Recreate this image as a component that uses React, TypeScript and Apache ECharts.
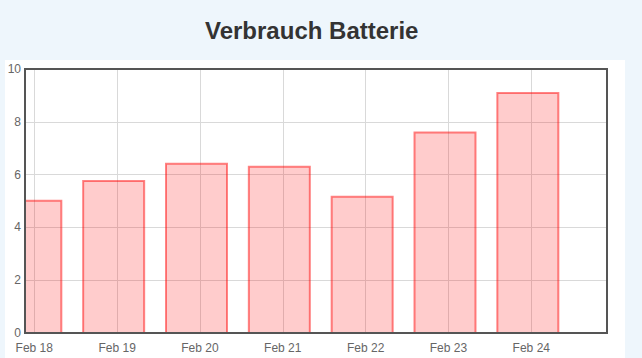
import React, { useEffect, useRef } from "react";
import * as echarts from "echarts";

const title = "Verbrauch Batterie";
const categories = ["Feb 18", "Feb 19", "Feb 20", "Feb 21", "Feb 22", "Feb 23", "Feb 24"];
const values = [5.01, 5.76, 6.41, 6.3, 5.16, 7.59, 9.09];
// data points are stamped one hour before local midnight of each day
const hourOffset = -1 / 24;
const yTicks = { min: 0, max: 10, interval: 2 };

export default function App() {
  const ref = useRef<HTMLDivElement>(null);
  useEffect(() => {
    document.body.style.margin = "0";
    const chart = echarts.init(ref.current!, null, { renderer: "svg" });
    const font = "'Liberation Sans', Arial, Helvetica, sans-serif";
    const barWidth = 61;
    chart.setOption({
      animation: false,
      backgroundColor: "#eef6fc",
      textStyle: { fontFamily: font },
      title: {
        text: title,
        left: 200,
        top: 13,
        textStyle: { fontSize: 24, fontWeight: "bold", color: "#333", fontFamily: font },
      },
      graphic: [
        {
          type: "rect",
          z: -10,
          silent: true,
          shape: { x: 5, y: 60, width: 620, height: 298 },
          style: { fill: "#ffffff" },
        },
      ],
      grid: {
        left: 25,
        right: 35,
        top: 69,
        bottom: 25,
        show: true,
        borderColor: "#555",
        borderWidth: 2,
        backgroundColor: "transparent",
        z: 5,
      },
      xAxis: {
        type: "value",
        min: -0.112,
        max: 6.914,
        minInterval: 1,
        maxInterval: 1,
        splitNumber: 7,
        axisLine: { show: false },
        axisTick: { show: false },
        splitLine: { show: true, lineStyle: { color: "#d9d9d9", width: 1 } },
        axisLabel: {
          color: "#666",
          fontSize: 12,
          margin: 9,
          showMinLabel: false,
          showMaxLabel: false,
          formatter: (v: number) => {
            const i = Math.round(v);
            return Math.abs(v - i) < 1e-6 && categories[i] ? categories[i] : "";
          },
        },
      },
      yAxis: {
        type: "value",
        min: yTicks.min,
        max: yTicks.max,
        interval: yTicks.interval,
        axisLine: { show: false },
        axisTick: { show: false },
        splitLine: { show: true, lineStyle: { color: "#d9d9d9", width: 1 } },
        axisLabel: { color: "#666", fontSize: 12, margin: 4 },
      },
      series: [
        {
          type: "custom",
          clip: true,
          encode: { x: 0, y: 1 },
          data: values.map((v, i) => [i + hourOffset, v]),
          renderItem: (params: any, api: any) => {
            const x = api.value(0);
            const y = api.value(1);
            const base = api.coord([x, 0]);
            const top = api.coord([x, y]);
            return {
              type: "rect",
              shape: { x: base[0] - barWidth / 2, y: top[1], width: barWidth, height: base[1] - top[1] },
              style: {
                fill: "rgba(255,0,0,0.2)",
                stroke: "rgba(255,0,0,0.48)",
                lineWidth: 2,
              },
            };
          },
        },
      ],
    });
    return () => chart.dispose();
  }, []);
  return <div ref={ref} style={{ position: "absolute", left: 0, top: 0, width: 642, height: 358 }} />;
}
